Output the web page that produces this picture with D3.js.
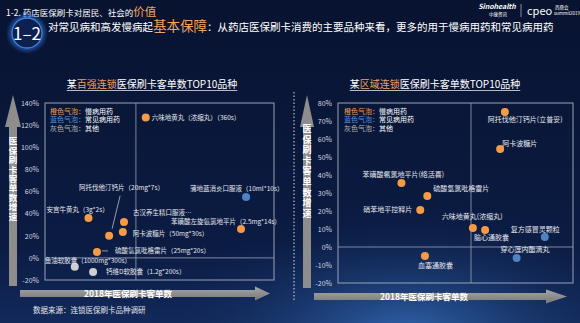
<!DOCTYPE html>
<html>
<head>
<meta charset="utf-8">
<script src="https://cdn.jsdelivr.net/npm/d3@7"></script>
<style>
  body { margin: 0; background: #0a1736; }
  svg { display: block; }
  text { font-family: "Noto Sans CJK SC", "Noto Sans", sans-serif; }
</style>
</head>
<body>
<div id="chart"></div>
<script>
var svgWidth = 580;
var svgHeight = 323;

// left chart: 某百强连锁
var leftNames = ["六味地黄丸（浓缩丸）（360s）", "阿托伐他汀钙片（20mg*7s）", "安宫牛黄丸（3g*2s）",
  "古汉养生精口服液…", "阿卡波糖片（50mg*30s）", "苯磺酸左旋氨氯地平片（2.5mg*14s）",
  "硫酸氢氯吡格雷片（25mg*20s）", "鱼油软胶囊（1000mg*300s）", "钙维D软胶囊（1.2g*200s）",
  "蒲地蓝消炎口服液（10ml*10s）"];
var leftX = [44, 28, 19, 34.5, 34, 85.6, 22.7, 13, 21, 87.8];
var leftY = [127, 20, 36, 32.5, 23.5, 26, 5.4, -8, -12.7, 55];
var leftKind = ["chronic", "chronic", "chronic", "chronic", "chronic", "chronic", "chronic", "other", "other", "common"];
var leftTicks = [-20, 0, 20, 40, 60, 80, 100, 120, 140];
var leftDivider = 39.7;

// right chart: 某区域连锁
var rightNames = ["阿托伐他汀钙片(立普妥)", "阿卡波糖片", "苯磺酸氨氯地平片(络活喜)", "硫酸氢氯吡格雷片",
  "硝苯地平控释片", "六味地黄丸(浓缩丸)", "脑心通胶囊", "复方感冒灵颗粒", "穿心莲内酯滴丸", "血塞通胶囊"];
var rightX = [71, 69, 27, 38, 35, 57.4, 62.6, 88, 76, 37];
var rightY = [75, 54.4, 35.6, 28.3, 20.6, 10.6, 9.4, 5.6, -6.1, -5];
var rightKind = ["chronic", "chronic", "chronic", "chronic", "chronic", "chronic", "chronic", "common", "common", "chronic"];
var rightTicks = [-20, -10, 0, 10, 20, 30, 40, 50, 60, 70, 80];
var rightDivider = 56.6;

var legendRows = [["橙色气泡：", "慢病用药", "chronic"], ["蓝色气泡：", "常见病用药", "common"], ["灰色气泡：", "其他", "other"]];

// label placement relative to each bubble [dx, dy, anchor]
var leftLabelPos = [[6, 3, "start"], [-30, -46, "start"], [-42, -6, "start"], [9, -7, "start"], [10, 4, "start"],
  [-70, -5, "start"], [18, 1.5, "start"], [-30, -4, "start"], [13, 2.5, "start"], [-56, -6, "start"]];
var rightLabelPos = [[-17, 9.5, "start"], [2, -3.5, "start"], [-39, -5.5, "start"], [6, -5.5, "start"],
  [-8, 2.5, "end"], [-31, -8.5, "start"], [-11, 9.5, "start"], [-34, -4.5, "start"], [-16, -5.5, "start"], [-7, 11.5, "start"]];

var colors = { chronic: "#f59a45", common: "#4d82c4", other: "#cfcfcf" };
var legendColors = { chronic: "#ee9a52", common: "#5a8fd8", other: "#b4b4b4" };

var svg = d3.select("#chart").append("svg")
  .attr("width", svgWidth)
  .attr("height", svgHeight);

var defs = svg.append("defs");
var bg = defs.append("linearGradient").attr("id", "bg").attr("x1", 0).attr("y1", 0).attr("x2", 0).attr("y2", 1);
bg.append("stop").attr("offset", "0%").attr("stop-color", "#081330");
bg.append("stop").attr("offset", "75%").attr("stop-color", "#0b1b42");
bg.append("stop").attr("offset", "100%").attr("stop-color", "#12295a");
var glow = defs.append("radialGradient").attr("id", "glow").attr("cx", "0.7").attr("cy", "1.05").attr("r", "0.45");
glow.append("stop").attr("offset", "0%").attr("stop-color", "#3a78c8").attr("stop-opacity", 0.8);
glow.append("stop").attr("offset", "100%").attr("stop-color", "#0b1b42").attr("stop-opacity", 0);
var arrowGrad = defs.append("linearGradient").attr("id", "arr").attr("x1", 0).attr("y1", 0).attr("x2", 0).attr("y2", 1);
arrowGrad.append("stop").attr("offset", "0%").attr("stop-color", "#a6a6a6");
arrowGrad.append("stop").attr("offset", "100%").attr("stop-color", "#777");
defs.append("filter").attr("id", "blur").append("feGaussianBlur").attr("stdDeviation", 2);

svg.append("rect").attr("width", svgWidth).attr("height", svgHeight).attr("fill", "url(#bg)");
svg.append("rect").attr("width", svgWidth).attr("height", svgHeight).attr("fill", "url(#glow)");

// header
var h1 = svg.append("text").attr("x", 6).attr("y", 16).attr("fill", "#fff").attr("font-size", 8.5);
h1.append("tspan").text("1-2. 药店医保刷卡对居民、社会的");
h1.append("tspan").attr("fill", "#f2a35c").attr("font-size", 11.5).text("价值");

svg.append("circle").attr("cx", 27).attr("cy", 33).attr("r", 16)
  .attr("fill", "none").attr("stroke", "#2c6fd6").attr("stroke-width", 3).attr("filter", "url(#blur)");
svg.append("circle").attr("cx", 27).attr("cy", 33).attr("r", 15)
  .attr("fill", "#0d2150").attr("stroke", "#3f86e0").attr("stroke-width", 1.3);
svg.append("text").attr("x", 27).attr("y", 39.5).attr("text-anchor", "middle")
  .attr("fill", "#fff").attr("font-size", 17).attr("font-family", "Roboto, sans-serif").text("1–2");

var h2 = svg.append("text").attr("x", 48).attr("y", 31).attr("fill", "#fff").attr("font-size", 10.5);
h2.append("tspan").text("对常见病和高发慢病起");
h2.append("tspan").attr("fill", "#f2a35c").attr("font-size", 13.5).text("基本保障");
h2.append("tspan").text("：从药店医保刷卡消费的主要品种来看，更多的用于慢病用药和常见病用药");

// logo
svg.append("text").attr("x", 497).attr("y", 9).attr("text-anchor", "middle").attr("fill", "#fff")
  .attr("font-size", 7).attr("font-style", "italic").attr("font-weight", "bold")
  .attr("font-family", "Liberation Sans, sans-serif").text("Sinohealth");
svg.append("text").attr("x", 498).attr("y", 16).attr("text-anchor", "middle").attr("fill", "#fff")
  .attr("font-size", 4.5).text("中康资讯");
svg.append("line").attr("x1", 521).attr("x2", 521).attr("y1", 4).attr("y2", 17).attr("stroke", "#ddd").attr("stroke-width", 0.6);
svg.append("text").attr("x", 527).attr("y", 15).attr("fill", "#fff").attr("font-size", 11)
  .attr("font-family", "Liberation Sans, sans-serif").text("cpeo");
svg.append("text").attr("x", 555).attr("y", 9).attr("fill", "#fff").attr("font-size", 4.5).text("西鼎会");
svg.append("text").attr("x", 554).attr("y", 15).attr("fill", "#fff").attr("font-size", 4.5)
  .attr("font-family", "Liberation Sans, sans-serif").text("summit2019");

// footer
svg.append("text").attr("x", 33).attr("y", 313).attr("fill", "#e4e6ec").attr("font-size", 7.5)
  .text("数据来源：连锁医保刷卡品种调研");

function drawChart(opt) {
  var g = svg.append("g");
  var xScale = d3.scaleLinear().domain([0, 100]).range([opt.left, opt.right]);
  var yScale = d3.scaleLinear().domain(opt.yDomain).range([opt.bottom, opt.top]);

  // title
  var title = g.append("text").attr("x", opt.titleX).attr("y", 88).attr("text-anchor", "middle")
    .attr("fill", "#fff").attr("font-size", 10)
    .attr("font-family", "Liberation Serif, Noto Sans CJK SC, serif");
  title.append("tspan").text("某");
  title.append("tspan").attr("fill", "#f0a060").text(opt.titleHi);
  title.append("tspan").text("医保刷卡客单数TOP10品种");
  var tw = title.node().getComputedTextLength();
  g.append("line").attr("x1", opt.titleX - tw / 2).attr("x2", opt.titleX + tw / 2)
    .attr("y1", 90.5).attr("y2", 90.5).attr("stroke", "#fff").attr("stroke-width", 0.7);

  // y axis ticks
  var yAxis = d3.axisLeft(yScale).tickValues(opt.ticks).tickSize(0).tickPadding(opt.tickPad)
    .tickFormat(d => d + "%");
  var ag = g.append("g").attr("transform", `translate(${opt.left}, 0)`).call(yAxis);
  ag.select(".domain").remove();
  ag.selectAll("text").attr("fill", "#d4d8e0").attr("font-size", 7)
    .attr("font-family", "DejaVu Sans, sans-serif");

  // box + quadrant lines
  g.append("rect").attr("x", opt.left).attr("y", opt.top)
    .attr("width", opt.right - opt.left).attr("height", opt.bottom - opt.top)
    .attr("fill", "none").attr("stroke", "#9aa1b6").attr("stroke-width", 1);
  g.append("line").attr("x1", xScale(opt.divider)).attr("x2", xScale(opt.divider))
    .attr("y1", opt.top).attr("y2", opt.bottom).attr("stroke", "#9aa1b6").attr("stroke-width", 0.8);
  g.append("line").attr("x1", opt.left).attr("x2", opt.right)
    .attr("y1", yScale(0)).attr("y2", yScale(0)).attr("stroke", "#9aa1b6").attr("stroke-width", 0.8);

  // legend
  legendRows.forEach(function(r, i) {
    var t = g.append("text").attr("x", opt.left + opt.legendDx).attr("y", 113.5 + i * 8.5).attr("font-size", 7);
    t.append("tspan").attr("fill", legendColors[r[2]]).text(r[0]);
    t.append("tspan").attr("fill", "#fff").text(r[1]);
  });

  // y arrow
  var ax = opt.yArrowX;
  g.append("path")
    .attr("d", `M${ax - 4},${opt.yArrowBottom} L${ax - 4},127 L${ax - opt.headW},127 L${ax},95 L${ax + opt.headW},127 L${ax + 4},127 L${ax + 4},${opt.yArrowBottom} Z`)
    .attr("fill", "#8d8d8d");
  g.append("text").attr("x", ax).attr("y", opt.yTextTop)
    .attr("writing-mode", "vertical-rl")
    .attr("letter-spacing", opt.yLetter)
    .attr("fill", "#fff").attr("font-size", opt.yFont).attr("font-weight", "bold")
    .text("医保刷卡客单数增速");

  // x arrow
  var ay = opt.xArrowY;
  g.append("path")
    .attr("d", `M${opt.xArrowStart},${ay - 3.5} L${opt.xArrowHead},${ay - 3.5} L${opt.xArrowHead},${ay - 7} L${opt.xArrowEnd},${ay} L${opt.xArrowHead},${ay + 7} L${opt.xArrowHead},${ay + 3.5} L${opt.xArrowStart},${ay + 3.5} Z`)
    .attr("fill", "url(#arr)");
  g.append("text").attr("x", opt.xTextX).attr("y", ay + 3).attr("text-anchor", "middle")
    .attr("fill", "#fff").attr("font-size", 8.5).attr("font-weight", "bold").text("2018年医保刷卡客单数");

  // leader lines
  opt.leaders.forEach(function(l) {
    var px = xScale(opt.xs[l.i]), py = yScale(opt.ys[l.i]);
    g.append("line").attr("x1", px + l.d[0]).attr("y1", py + l.d[1]).attr("x2", px + l.d[2]).attr("y2", py + l.d[3])
      .attr("stroke", "#cfd3dc").attr("stroke-width", 0.7);
  });

  // bubbles
  g.selectAll("circle.pt").data(opt.names).enter().append("circle")
    .attr("class", "pt")
    .attr("cx", (d, i) => xScale(opt.xs[i]))
    .attr("cy", (d, i) => yScale(opt.ys[i]))
    .attr("r", 4)
    .attr("fill", (d, i) => colors[opt.kinds[i]]);

  // labels
  g.selectAll("text.lbl").data(opt.names).enter().append("text")
    .attr("class", "lbl")
    .attr("x", (d, i) => xScale(opt.xs[i]) + opt.pos[i][0])
    .attr("y", (d, i) => yScale(opt.ys[i]) + opt.pos[i][1])
    .attr("text-anchor", (d, i) => opt.pos[i][2])
    .attr("fill", "#e6e8ee").attr("font-size", opt.labelFont)
    .text(d => d);
}

drawChart({
  left: 45, right: 274, top: 103, bottom: 280, yDomain: [-20, 140], ticks: leftTicks, tickPad: 6,
  divider: leftDivider, titleX: 152, titleHi: "百强连锁", legendDx: 5,
  names: leftNames, xs: leftX, ys: leftY, kinds: leftKind, pos: leftLabelPos, labelFont: 6.5,
  yArrowX: 13, headW: 8, yArrowBottom: 286, yFont: 8.5, yLetter: 0.9, yTextTop: 137,
  xArrowY: 293.5, xArrowStart: 20, xArrowHead: 255, xArrowEnd: 270, xTextX: 128,
  leaders: [{ i: 1, d: [3, -7, 11, -40] }, { i: 6, d: [5, -1, 11, -1] }]
});

drawChart({
  left: 338, right: 573, top: 103, bottom: 283, yDomain: [-20, 80], ticks: rightTicks, tickPad: 6,
  divider: rightDivider, titleX: 435, titleHi: "区域连锁", legendDx: 6,
  names: rightNames, xs: rightX, ys: rightY, kinds: rightKind, pos: rightLabelPos, labelFont: 7,
  yArrowX: 307, headW: 7, yArrowBottom: 288, yFont: 9, yLetter: 1.6, yTextTop: 124,
  xArrowY: 296.5, xArrowStart: 314, xArrowHead: 546, xArrowEnd: 567, xTextX: 424,
  leaders: []
});

// dotted separator
svg.append("line").attr("x1", 294).attr("x2", 294).attr("y1", 92).attr("y2", 300)
  .attr("stroke", "#e0e0e0").attr("stroke-width", 1).attr("stroke-dasharray", "1.5,2");
</script>
</body>
</html>
